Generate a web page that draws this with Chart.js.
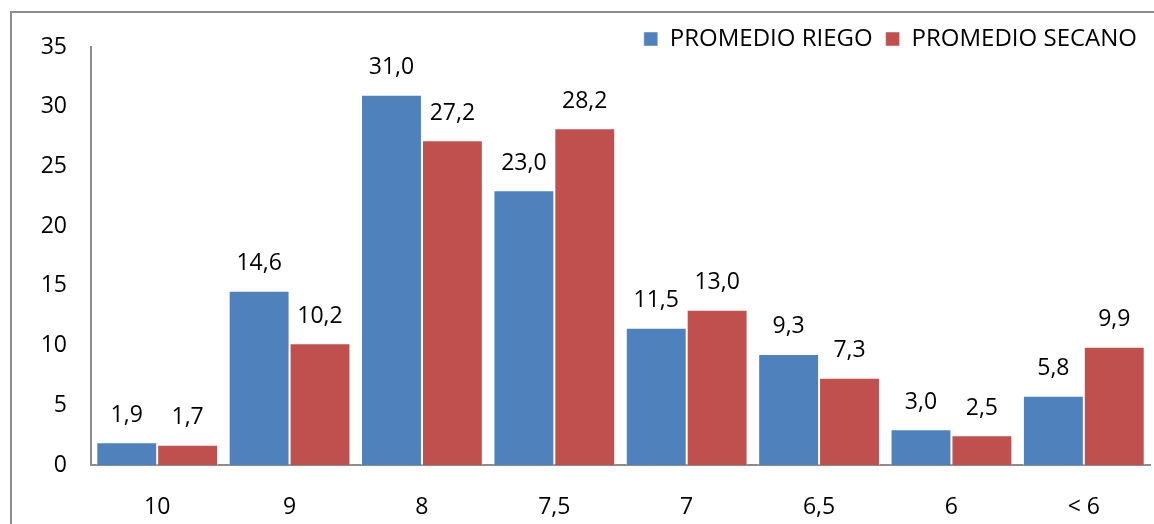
<!DOCTYPE html>
<html>
<head>
<meta charset="utf-8">
<script src="https://cdn.jsdelivr.net/npm/chart.js@4.4.1/dist/chart.umd.min.js"></script>
<style>
  html, body { margin: 0; padding: 0; background: #fff; overflow: hidden; }
  #frame { position: absolute; left: 10px; top: 11px; width: 1300px; height: 700px; border: 2px solid #8c8c8c; }
  #wrap { position: absolute; left: 0; top: 0; width: 1154px; height: 524px; }
</style>
</head>
<body>
<div id="frame"></div>
<div id="wrap"><canvas id="chart"></canvas></div>
<script>
const categories = ["10", "9", "8", "7,5", "7", "6,5", "6", "< 6"];
const riego = [1.9, 14.6, 31.0, 23.0, 11.5, 9.3, 3.0, 5.8];
const secano = [1.7, 10.2, 27.2, 28.2, 13.0, 7.3, 2.5, 9.9];
const seriesNames = ["PROMEDIO RIEGO", "PROMEDIO SECANO"];
const FONT = "'Open Sans', 'Liberation Sans', sans-serif";

// value labels above each bar, comma decimal
const barLabels = {
  id: "barLabels",
  afterDatasetsDraw(chart) {
    const ctx = chart.ctx;
    ctx.save();
    ctx.font = "23px " + FONT;
    ctx.fillStyle = "#000";
    ctx.textAlign = "center";
    ctx.textBaseline = "middle";
    chart.data.datasets.forEach((ds, i) => {
      chart.getDatasetMeta(i).data.forEach((bar, j) => {
        ctx.fillText(ds.data[j].toFixed(1).replace(".", ","), bar.x, bar.y - 27);
      });
    });
    ctx.restore();
  }
};

// keep the legend from pushing the plot down too far
const legendHeight = {
  id: "legendHeight",
  beforeInit(chart) {
    const fit = chart.legend.fit;
    chart.legend.fit = function () {
      fit.bind(chart.legend)();
      this.height = 33;
    };
  }
};

new Chart(document.getElementById("chart"), {
  type: "bar",
  data: {
    labels: categories,
    datasets: [
      { label: seriesNames[0], data: riego, backgroundColor: "#4f81bd", borderColor: "rgba(255,255,255,0.45)", borderWidth: 1 },
      { label: seriesNames[1], data: secano, backgroundColor: "#c0504d", borderColor: "rgba(255,255,255,0.45)", borderWidth: 1 }
    ]
  },
  options: {
    responsive: true,
    maintainAspectRatio: false,
    animation: false,
    datasets: { bar: { categoryPercentage: 0.92, barPercentage: 1.0 } },
    layout: { padding: { top: 14, right: 4, left: 0, bottom: 0 } },
    plugins: {
      legend: {
        position: "top",
        align: "end",
        labels: { boxWidth: 14, boxHeight: 14, padding: 13, color: "#000", font: { family: FONT, size: 24 } }
      },
      tooltip: { enabled: false }
    },
    scales: {
      x: {
        grid: { display: false, drawTicks: false },
        border: { color: "#8c8c8c", width: 2 },
        ticks: { color: "#000", padding: 29, font: { family: FONT, size: 23 } },
        afterFit: (s) => { s.height = 59; }
      },
      y: {
        min: 0, max: 35,
        grid: { display: false, drawTicks: false },
        border: { color: "#8c8c8c", width: 2 },
        ticks: { stepSize: 5, color: "#000", padding: 24, font: { family: FONT, size: 23 } },
        afterFit: (s) => { s.width = 91; }
      }
    }
  },
  plugins: [barLabels, legendHeight]
});
</script>
</body>
</html>
